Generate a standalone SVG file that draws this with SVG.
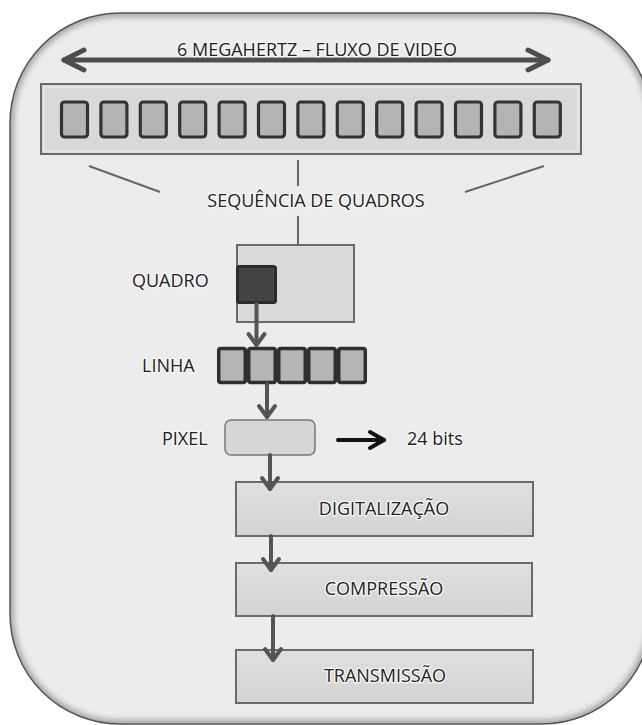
<svg xmlns="http://www.w3.org/2000/svg" width="642" height="725" viewBox="0 0 642 725">
<style>
text{font-family:"Open Sans","Liberation Sans",sans-serif;font-size:18px;fill:#222;stroke:#f8f8f8;stroke-width:2.5;paint-order:stroke;stroke-linejoin:round}
.sq{fill:#b4b4b4;stroke:#333;stroke-width:3.2}
.box{fill:url(#gbox);stroke:#6b6b6b;stroke-width:2}
.conn{stroke:#555;stroke-width:4;fill:none;stroke-linecap:round}
.thin{stroke:#666;stroke-width:2;fill:none}
.mid{text-anchor:middle}
</style>
<defs>
<linearGradient id="gbox" x1="0" y1="0" x2="0" y2="1">
<stop offset="0" stop-color="#e0e0e0"/><stop offset="1" stop-color="#d3d3d3"/>
</linearGradient>
<clipPath id="outerClip"><rect x="10" y="13" width="642" height="711" rx="110" ry="110"/></clipPath>
<filter id="blur" x="-10%" y="-10%" width="120%" height="120%"><feGaussianBlur stdDeviation="3"/></filter>
<marker id="chev" viewBox="-15 -15 30 30" markerWidth="30" markerHeight="30" markerUnits="userSpaceOnUse" refX="0" refY="0" orient="auto" overflow="visible">
<path d="M -11 -8 L 0 0 L -11 8" fill="none" stroke="#555" stroke-width="4" stroke-linecap="round" stroke-linejoin="round"/>
</marker>
<marker id="chevBig" viewBox="-25 -15 30 30" markerWidth="30" markerHeight="30" markerUnits="userSpaceOnUse" refX="0" refY="0" orient="auto-start-reverse" overflow="visible">
<path d="M -20 -10 L 0 0 L -20 10" fill="none" stroke="#4d4d4d" stroke-width="5" stroke-linecap="round" stroke-linejoin="round"/>
</marker>
<marker id="chevBlack" viewBox="-20 -15 30 30" markerWidth="30" markerHeight="30" markerUnits="userSpaceOnUse" refX="0" refY="0" orient="auto" overflow="visible">
<path d="M -14 -8 L 0 0 L -14 8" fill="none" stroke="#111" stroke-width="4" stroke-linecap="round" stroke-linejoin="round"/>
</marker>
</defs>
<rect width="642" height="725" fill="#fff"/>
<g id="background">
<rect x="10" y="13" width="642" height="711" rx="110" ry="110" fill="#ececec"/>
<g clip-path="url(#outerClip)">
<rect x="10" y="13" width="642" height="711" rx="110" ry="110" fill="none" stroke="#9a9a9a" stroke-width="7" filter="url(#blur)"/>
</g>
<rect x="10" y="13" width="642" height="711" rx="110" ry="110" fill="none" stroke="#555" stroke-width="1.5"/>
</g>
<g id="stream">
<line x1="64" y1="60" x2="548" y2="60" stroke="#4d4d4d" stroke-width="5" stroke-linecap="round" marker-start="url(#chevBig)" marker-end="url(#chevBig)"/>
<text x="317" y="56" class="mid">6 MEGAHERTZ – FLUXO DE VIDEO</text>
</g>
<g id="sequence-bar">
<rect x="41" y="84" width="540" height="70" fill="#d9d9d9" stroke="#6a6a6a" stroke-width="2"/>
<rect x="44" y="87" width="534" height="64" fill="none" stroke="#e8e8e8" stroke-width="1.5"/>
<rect class="sq" x="61.5" y="102" width="26" height="35" rx="3"/>
<rect class="sq" x="100.9" y="102" width="26" height="35" rx="3"/>
<rect class="sq" x="140.3" y="102" width="26" height="35" rx="3"/>
<rect class="sq" x="179.7" y="102" width="26" height="35" rx="3"/>
<rect class="sq" x="219.1" y="102" width="26" height="35" rx="3"/>
<rect class="sq" x="258.5" y="102" width="26" height="35" rx="3"/>
<rect class="sq" x="297.9" y="102" width="26" height="35" rx="3"/>
<rect class="sq" x="337.3" y="102" width="26" height="35" rx="3"/>
<rect class="sq" x="376.7" y="102" width="26" height="35" rx="3"/>
<rect class="sq" x="416.1" y="102" width="26" height="35" rx="3"/>
<rect class="sq" x="455.5" y="102" width="26" height="35" rx="3"/>
<rect class="sq" x="494.9" y="102" width="26" height="35" rx="3"/>
<rect class="sq" x="534.3" y="102" width="26" height="35" rx="3"/>
</g>
<g id="sequence-label">
<text x="316" y="207" class="mid">SEQUÊNCIA DE QUADROS</text>
</g>
<g id="quadro">
<text x="132" y="287">QUADRO</text>
<rect x="237" y="245" width="117" height="77" fill="#dadada" stroke="#6a6a6a" stroke-width="2"/>
<rect x="237.5" y="266.5" width="38" height="36" rx="2" fill="#444" stroke="#2b2b2b" stroke-width="3"/>
</g>
<g id="linha">
<text x="142" y="372">LINHA</text>
<rect x="218.75" y="348.5" width="26.5" height="34" rx="2" fill="#b5b5b5" stroke="#2e2e2e" stroke-width="3.5"/>
<rect x="248.75" y="348.5" width="26.5" height="34" rx="2" fill="#b5b5b5" stroke="#2e2e2e" stroke-width="3.5"/>
<rect x="278.75" y="348.5" width="26.5" height="34" rx="2" fill="#b5b5b5" stroke="#2e2e2e" stroke-width="3.5"/>
<rect x="308.75" y="348.5" width="26.5" height="34" rx="2" fill="#b5b5b5" stroke="#2e2e2e" stroke-width="3.5"/>
<rect x="338.75" y="348.5" width="26.5" height="34" rx="2" fill="#b5b5b5" stroke="#2e2e2e" stroke-width="3.5"/>
</g>
<g id="pixel">
<text x="162" y="445">PIXEL</text>
<rect x="225" y="420" width="90" height="35" rx="6" fill="#d6d6d6" stroke="#777" stroke-width="1.5"/>
</g>
<g id="bits">
<text x="407" y="445">24 bits</text>
</g>
<g id="digitalizacao">
<rect class="box" x="236" y="482" width="297" height="54"/>
<text x="384" y="515" class="mid">DIGITALIZAÇÃO</text>
</g>
<g id="compressao">
<rect class="box" x="236" y="563" width="296" height="53"/>
<text x="384" y="595" class="mid">COMPRESSÃO</text>
</g>
<g id="transmissao">
<rect class="box" x="236" y="650" width="297" height="53"/>
<text x="385" y="682" class="mid">TRANSMISSÃO</text>
</g>
<g id="connectors">
<line class="thin" x1="89" y1="166" x2="160" y2="192"/>
<line class="thin" x1="298" y1="160" x2="298" y2="186"/>
<line class="thin" x1="465" y1="192" x2="544" y2="166"/>
<line class="thin" x1="298" y1="216" x2="298" y2="244"/>
<line class="conn" x1="256.5" y1="304" x2="256.5" y2="345" marker-end="url(#chev)"/>
<line class="conn" x1="267" y1="384" x2="267" y2="417" marker-end="url(#chev)"/>
<line class="conn" x1="270" y1="455" x2="270" y2="489" marker-end="url(#chev)"/>
<line class="conn" x1="271" y1="536" x2="271" y2="570" marker-end="url(#chev)"/>
<line class="conn" x1="273" y1="616" x2="273" y2="660" marker-end="url(#chev)"/>
<line x1="338" y1="440" x2="384" y2="440" stroke="#111" stroke-width="4" stroke-linecap="round" marker-end="url(#chevBlack)"/>
</g>
</svg>
